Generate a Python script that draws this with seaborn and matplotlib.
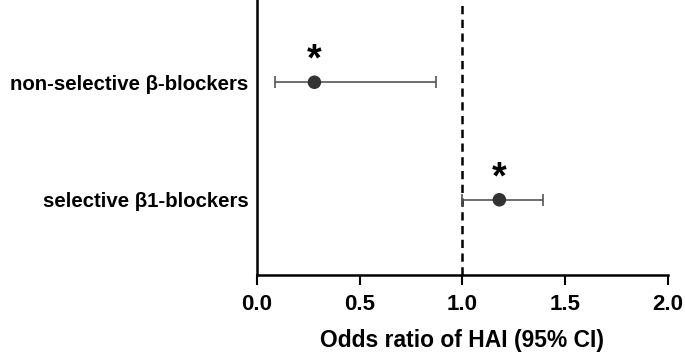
import matplotlib
matplotlib.use("Agg")
import matplotlib.pyplot as plt
import pandas as pd
import seaborn as sns

groups = ["non-selective β-blockers", "selective β1-blockers"]
odds_ratio = [0.28, 1.18]
ci_low = [0.09, 1.00]
ci_high = [0.87, 1.39]
significant = [True, True]

sns.set_style("ticks")
plt.rcParams["font.family"] = ["Liberation Sans", "DejaVu Sans"]
plt.rcParams["font.weight"] = "bold"
plt.rcParams["text.color"] = "black"
plt.rcParams["xtick.color"] = "black"
plt.rcParams["ytick.color"] = "black"
plt.rcParams["axes.labelcolor"] = "black"

df = pd.DataFrame({"group": groups, "OR": odds_ratio, "lo": ci_low, "hi": ci_high})
df["ypos"] = list(range(len(groups)))[::-1]

fig = plt.figure(figsize=(6.85, 3.59), dpi=100)
ax = fig.add_axes([0.375, 0.234, 0.6, 0.766])

ax.errorbar(df["OR"], df["ypos"],
            xerr=[df["OR"] - df["lo"], df["hi"] - df["OR"]],
            fmt="none", ecolor="#555555", elinewidth=1.2, capsize=4, capthick=1.2, zorder=2)
sns.scatterplot(data=df, x="OR", y="ypos", color="#333333", s=95, edgecolor="none", ax=ax, zorder=3)

for i, r in df.iterrows():
    if significant[i]:
        ax.text(r["OR"], r["ypos"] + 0.03, "*", ha="center", va="bottom", fontsize=27, fontweight="bold")

ax.axvline(1.0, color="black", lw=1.8, ls=(0, (3.3, 2.2)), zorder=1)

ax.set_xlim(0, 2.0)
ax.set_ylim(-0.64, 1.7)
ax.set_xticks([0.0, 0.5, 1.0, 1.5, 2.0])
ax.set_xticklabels(["0.0", "0.5", "1.0", "1.5", "2.0"], fontsize=16, fontweight="bold")
ax.set_yticks(df["ypos"])
ax.set_yticklabels(df["group"], fontsize=14.7, fontweight="bold")
ax.tick_params(axis="y", length=0, pad=6)
ax.tick_params(axis="x", length=7, width=1.5, pad=7)
ax.set_xlabel("Odds ratio of HAI (95% CI)", fontsize=16.5, fontweight="bold", labelpad=10)
ax.set_ylabel("")

sns.despine(ax=ax)
for s in ["left", "bottom"]:
    ax.spines[s].set_linewidth(1.8)
    ax.spines[s].set_color("black")

fig.savefig("out.png", dpi=100)
